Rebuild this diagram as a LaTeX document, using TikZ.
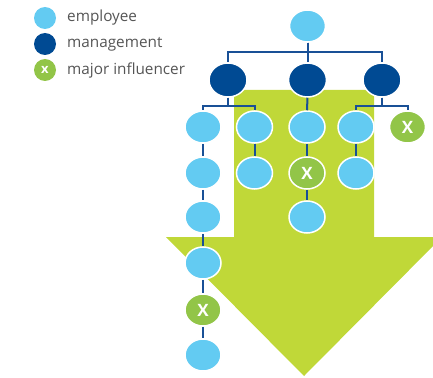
\documentclass[tikz,border=0pt]{standalone}
\usepackage{fontspec}
\setmainfont{Open Sans}
\usetikzlibrary{shapes.geometric}
\definecolor{emp}{RGB}{99,203,242}
\definecolor{mgmt}{RGB}{0,74,147}
\definecolor{infl}{RGB}{146,197,72}
\definecolor{arrowc}{RGB}{192,216,56}
\definecolor{linec}{RGB}{25,80,150}
\definecolor{txt}{RGB}{85,85,85}
\begin{document}
\begin{tikzpicture}[x=1pt,y=-1pt,
  nd/.style={ellipse,minimum width=36,minimum height=32,inner sep=0pt,draw=white,line width=1.5pt},
  empn/.style={nd,fill=emp},
  mgn/.style={nd,fill=mgmt,minimum width=38,minimum height=34},
  infn/.style={nd,fill=infl,text=white,font=\fontsize{17}{17}\selectfont\bfseries},
  conn/.style={draw=linec,line width=2pt},
  legc/.style={circle,minimum size=22,inner sep=0pt},
  legt/.style={anchor=west,text=txt,font=\fontsize{15.3}{15.3}\selectfont,inner sep=0pt}]
\useasboundingbox (0,0) rectangle (433,377);
\clip (0,0) rectangle (433,377);
% arrow
\fill[arrowc] (234,90) -- (374,90) -- (374,237) -- (442,237) -- (304,376) -- (166,237) -- (234,237) -- cycle;
% legend
\node[legc,fill=emp] (l1) at (45,18) {};
\node[legc,fill=mgmt] (l2) at (45,44) {};
\node[legc,fill=infl,text=white,font=\fontsize{13}{13}\selectfont\bfseries] (l3) at (45,70) {x};
\node[legt] (t1) at (67,18) {employee};
\node[legt] (t2) at (67,44) {management};
\node[legt] (t3) at (67,70) {major influencer};
% tree
\node[empn] (top) at (307.5,26) {};
\node[mgn] (m1) at (228,80) {};
\node[mgn] (m2) at (307.5,80) {};
\node[mgn] (m3) at (382,80) {};
\node[empn] (a1) at (203,127) {};
\node[empn] (a2) at (203,173) {};
\node[empn] (a3) at (203,217) {};
\node[empn] (a4) at (203,263) {};
\node[infn] (a5) at (203,310) {X};
\node[empn] (a6) at (203,355) {};
\node[empn] (b1) at (254.5,127) {};
\node[empn] (b2) at (254.5,173) {};
\node[empn] (c1) at (307,127) {};
\node[infn] (c2) at (307,173) {X};
\node[empn] (c3) at (307,217) {};
\node[empn] (d1) at (356,127) {};
\node[empn] (d2) at (356,173) {};
\node[infn] (e1) at (407.5,127) {X};
% connectors
\draw[conn] (top.south) -- ++(0,9) -| (m1.north);
\draw[conn] (top.south) -- ++(0,9) -| (m3.north);
\draw[conn] (top) -- (m2);
\draw[conn] (m1.south) -- ++(0,8) -| (a1.north);
\draw[conn] (m1.south) -- ++(0,8) -| (b1.north);
\draw[conn] (m2) -- (c1);
\draw[conn] (m3.south) -- ++(0,8) -| (d1.north);
\draw[conn] (m3.south) -- ++(0,8) -| (e1.north);
\draw[conn] (a1) -- (a2);
\draw[conn] (a2) -- (a3);
\draw[conn] (a3) -- (a4);
\draw[conn] (a4) -- (a5);
\draw[conn] (a5) -- (a6);
\draw[conn] (b1) -- (b2);
\draw[conn] (c1) -- (c2);
\draw[conn] (c2) -- (c3);
\draw[conn] (d1) -- (d2);
\end{tikzpicture}
\end{document}
